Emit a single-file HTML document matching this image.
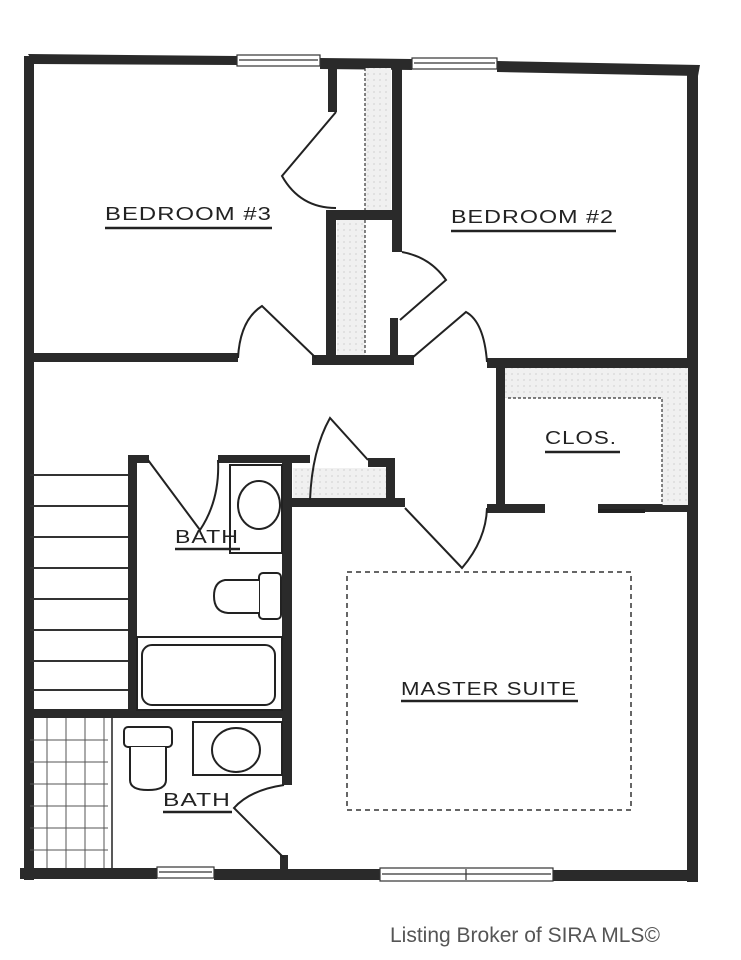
<!DOCTYPE html>
<html><head><style>
html,body{margin:0;padding:0;background:#fff;width:741px;height:960px;overflow:hidden}
svg{display:block}
text{font-family:"Liberation Sans",sans-serif}
</style></head><body>
<svg width="741" height="960" viewBox="0 0 741 960" xmlns="http://www.w3.org/2000/svg">
<defs>
<pattern id="dots" width="6" height="6" patternUnits="userSpaceOnUse"><rect width="6" height="6" fill="#f0f0f0"/><circle cx="2" cy="2" r="0.6" fill="#bbb"/></pattern>
</defs>
<g fill="#2a2a2a">
<polygon points="28,54 237,56 237,65 34,64"/>
<polygon points="320,58 412,59 412,70 320,69"/>
<polygon points="497,61 700,65 698,76 497,72"/>
<rect x="24" y="56" width="10" height="824"/>
<rect x="687" y="68" width="11" height="814"/>
<rect x="20" y="868" width="137" height="11"/>
<rect x="214" y="869" width="166" height="11"/>
<rect x="553" y="870" width="145" height="11"/>
<rect x="30" y="353" width="208" height="9"/>
<rect x="312" y="355" width="102" height="10"/>
<rect x="328" y="66" width="9" height="46"/>
<rect x="326" y="210" width="10" height="150"/>
<rect x="330" y="210" width="70" height="10"/>
<rect x="392" y="66" width="10" height="186"/>
<rect x="390" y="318" width="8" height="42"/>
<rect x="487" y="358" width="208" height="10"/>
<rect x="496" y="365" width="9" height="148"/>
<rect x="487" y="504" width="58" height="9"/>
<rect x="598" y="504" width="90" height="8"/>
<rect x="128" y="455" width="9" height="258"/>
<rect x="137" y="455" width="12" height="8"/>
<rect x="218" y="455" width="92" height="8"/>
<rect x="282" y="460" width="10" height="325"/>
<rect x="290" y="498" width="115" height="9"/>
<rect x="368" y="458" width="27" height="9"/>
<rect x="386" y="458" width="9" height="45"/>
<rect x="28" y="709" width="262" height="9"/>
<rect x="280" y="855" width="8" height="15"/>
</g>
<g fill="#fff" stroke="#333" stroke-width="1.2">
<rect x="237" y="55" width="83" height="11"/><line x1="239" y1="60" x2="318" y2="60"/>
<rect x="412" y="58" width="85" height="11"/><line x1="414" y1="63" x2="495" y2="63"/>
<rect x="157" y="867" width="57" height="11"/><line x1="159" y1="872" x2="212" y2="872"/>
<rect x="380" y="868" width="173" height="13"/><line x1="382" y1="874" x2="551" y2="874"/><line x1="466" y1="869" x2="466" y2="880"/>
</g>
<rect x="365" y="68" width="26" height="142" fill="url(#dots)"/>
<rect x="337" y="220" width="28" height="135" fill="url(#dots)"/>
<rect x="505" y="368" width="183" height="30" fill="url(#dots)"/>
<rect x="662" y="398" width="26" height="107" fill="url(#dots)"/>
<rect x="293" y="468" width="93" height="30" fill="url(#dots)"/>
<g fill="none" stroke="#333" stroke-width="1.2" stroke-dasharray="3,2">
<line x1="365" y1="68" x2="365" y2="210"/><line x1="365" y1="220" x2="365" y2="355"/>
<polyline points="508,398 662,398 662,505"/>
</g>
<g fill="none" stroke="#222" stroke-width="2">
<path d="M336,112 L282,176 Q300,208 336,208"/>
<path d="M402,252 Q430,257 446,280 L400,320"/>
<path d="M238,358 Q240,320 262,306 L316,358"/>
<path d="M487,362 Q484,322 466,312 L412,358"/>
<path d="M148,460 L200,530 Q220,500 218,460"/>
<path d="M310,500 Q312,450 330,418 L368,460"/>
<path d="M405,508 L462,568 Q486,540 487,508"/>
<path d="M284,785 Q250,790 234,808 L284,858"/>
<line x1="598" y1="511" x2="645" y2="511" stroke-width="4"/>
</g>
<g stroke="#333" stroke-width="2">
<line x1="30" y1="475" x2="128" y2="475"/><line x1="30" y1="506" x2="128" y2="506"/><line x1="30" y1="537" x2="128" y2="537"/><line x1="30" y1="568" x2="128" y2="568"/><line x1="30" y1="599" x2="128" y2="599"/><line x1="30" y1="630" x2="128" y2="630"/><line x1="30" y1="661" x2="128" y2="661"/><line x1="30" y1="690" x2="128" y2="690"/>
</g>
<g fill="#fff" stroke="#222" stroke-width="2">
<rect x="230" y="465" width="52" height="88"/>
<ellipse cx="259" cy="505" rx="21" ry="24"/>
<rect x="259" y="573" width="22" height="46" rx="4"/>
<path d="M259,580 L225,580 Q214,582 214,596 Q214,612 228,613 L259,613"/>
<rect x="137" y="637" width="145" height="73"/>
<rect x="142" y="645" width="133" height="60" rx="10"/>
<rect x="124" y="727" width="48" height="20" rx="4"/>
<path d="M130,747 L130,780 Q130,790 148,790 Q166,790 166,780 L166,747"/>
<rect x="193" y="722" width="89" height="53"/>
<ellipse cx="236" cy="750" rx="24" ry="22"/>
</g>
<line x1="112" y1="718" x2="112" y2="868" stroke="#222" stroke-width="1.5"/>
<g stroke="#555" stroke-width="1">
<line x1="30" y1="740" x2="108" y2="740"/><line x1="30" y1="762" x2="108" y2="762"/><line x1="30" y1="784" x2="108" y2="784"/><line x1="30" y1="806" x2="108" y2="806"/><line x1="30" y1="828" x2="108" y2="828"/><line x1="30" y1="850" x2="108" y2="850"/>
<line x1="47" y1="718" x2="47" y2="868"/><line x1="66" y1="718" x2="66" y2="868"/><line x1="85" y1="718" x2="85" y2="868"/><line x1="104" y1="718" x2="104" y2="868"/>
</g>
<rect x="347" y="572" width="284" height="238" fill="none" stroke="#333" stroke-width="1.5" stroke-dasharray="5,4"/>
<g font-size="18" fill="#222" letter-spacing="0.8">
<text x="105" y="220" textLength="167" lengthAdjust="spacingAndGlyphs">BEDROOM #3</text>
<text x="451" y="223" textLength="163" lengthAdjust="spacingAndGlyphs">BEDROOM #2</text>
<text x="545" y="444" textLength="72" lengthAdjust="spacingAndGlyphs">CLOS.</text>
<text x="175" y="543" textLength="64" lengthAdjust="spacingAndGlyphs">BATH</text>
<text x="401" y="695" textLength="176" lengthAdjust="spacingAndGlyphs">MASTER SUITE</text>
<text x="163" y="806" textLength="68" lengthAdjust="spacingAndGlyphs">BATH</text>
</g>
<g stroke="#222" stroke-width="2.5">
<line x1="105" y1="228" x2="272" y2="228"/>
<line x1="451" y1="231" x2="616" y2="231"/>
<line x1="545" y1="452" x2="620" y2="452"/>
<line x1="175" y1="549" x2="240" y2="549"/>
<line x1="401" y1="701" x2="578" y2="701"/>
<line x1="163" y1="812" x2="232" y2="812"/>
</g>
<text x="390" y="942" font-size="21" fill="#555">Listing Broker of SIRA MLS©</text>
</svg>
</body></html>
